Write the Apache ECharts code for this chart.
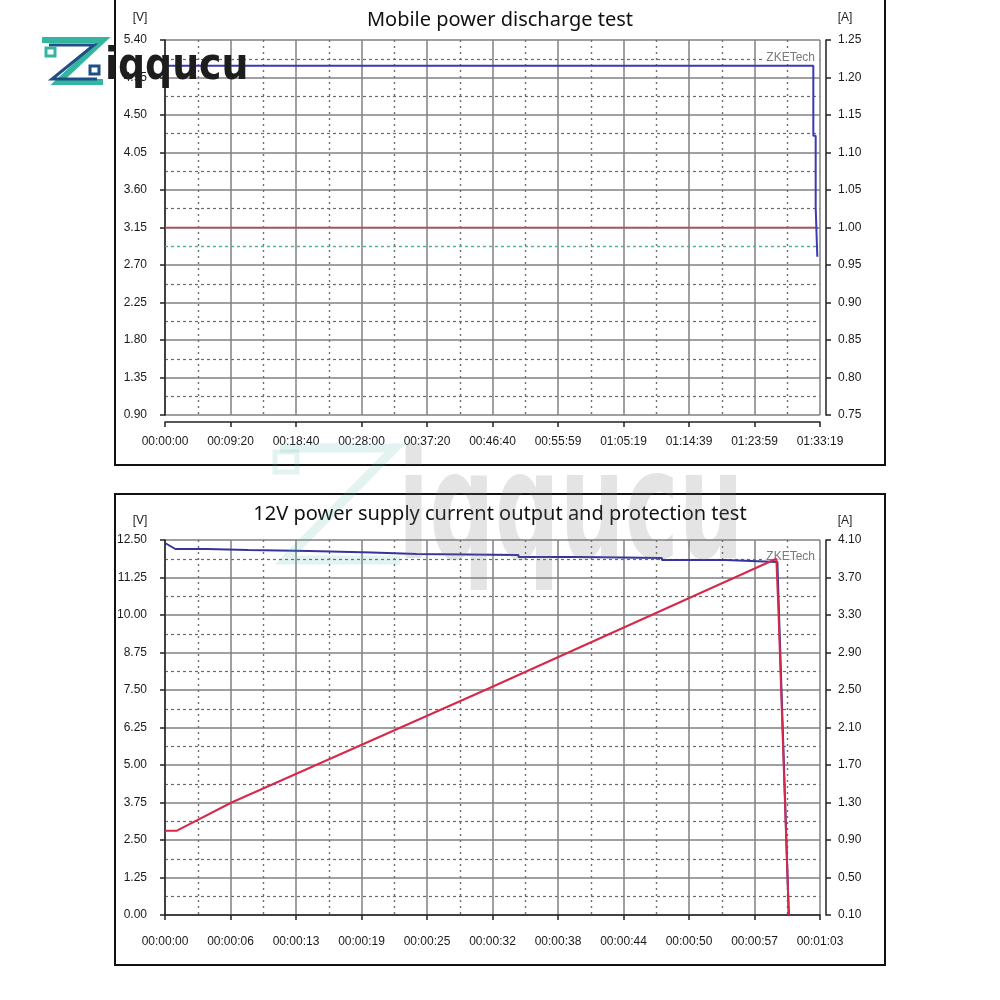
<!DOCTYPE html>
<html><head><meta charset="utf-8">
<script src="https://cdn.jsdelivr.net/npm/echarts@6/dist/echarts.min.js"></script>
<style>html,body{margin:0;padding:0;background:#fff}#c{width:1000px;height:1000px}</style>
</head><body><div id="c"></div>
<script>
// ---------- data ----------
const topTitle = 'Mobile power discharge test';
const bottomTitle = '12V power supply current output and protection test';

const topTimeLabels = ['00:00:00','00:09:20','00:18:40','00:28:00','00:37:20','00:46:40','00:55:59','01:05:19','01:14:39','01:23:59','01:33:19'];
const topTimeStep = 559.9;      // seconds between labels
const topTimeMax = 5599;
const topVoltRange = [0.90, 5.40, 0.45];
const topCurrRange = [0.75, 1.25, 0.05];
const topVoltage = [[0,5.09],[5542,5.09],[5542,4.25],[5562,4.25],[5562,3.40],[5576,3.40],[5576,2.80]];
const topCurrent = [[0,1.00],[5580,1.00]];
const topCutoffVoltage = 2.925;

const bottomTimeLabels = ['00:00:00','00:00:06','00:00:13','00:00:19','00:00:25','00:00:32','00:00:38','00:00:44','00:00:50','00:00:57','00:01:03'];
const bottomTimeStep = 6.3;
const bottomTimeMax = 63;
const bottomVoltRange = [0, 12.5, 1.25];
const bottomCurrTicks = [0.10,0.50,0.90,1.30,1.70,2.10,2.50,2.90,3.30,3.70,4.10];
const bottomVoltage = [[0,12.40],[1.0,12.20],[4.0,12.20],[4.0,12.17],[8.0,12.17],[8.0,12.13],[13.9,12.13],[13.9,12.08],[19.9,12.08],[19.9,12.03],[24.2,12.03],[24.2,12.00],[34.0,12.00],[34.0,11.93],[40.0,11.93],[40.0,11.90],[47.8,11.90],[47.8,11.83],[53.9,11.83],[53.9,11.77],[58.9,11.77],[59.1,9.6],[60.0,0.00]];
const bottomCurrent = [[0,1.00],[1.15,1.00],[6.4,1.30],[30.8,2.50],[58.8,3.90],[59.0,3.35],[60.0,0.10]];

// ---------- styles ----------
const labelFont = {fontFamily:'Liberation Sans, Arial, sans-serif', fontSize:12, color:'#1a1a1a'};
const solidGrid = {show:true, lineStyle:{color:'#808080', width:1.5, type:'solid'}};
const dashGridH = {show:true, lineStyle:{color:'#6a6a6a', width:1.2, type:[3,3]}};
const dashGridV = {show:true, lineStyle:{color:'#707070', width:1.4, type:[2,4]}};
const axisLine = {show:true, lineStyle:{color:'#222', width:1.5}};
const axisTick = {show:true, inside:false, length:5, lineStyle:{color:'#222', width:1.5}};

function xAxisDef(gridIndex, max, step, labels){
  return {type:'value', gridIndex, min:0, max, interval:step, position:'bottom', offset:7,
    axisLine, axisTick,
    axisLabel:Object.assign({margin:14, showMinLabel:true, showMaxLabel:true,
      formatter:v=>labels[Math.round(v/step)] || ''}, labelFont),
    splitLine:solidGrid, minorTick:{show:false, splitNumber:2}, minorSplitLine:dashGridV};
}
function yLeft(gridIndex, r){
  return {type:'value', gridIndex, min:r[0], max:r[1], interval:r[2], position:'left', offset:6,
    axisLine, axisTick,
    axisLabel:Object.assign({margin:12, formatter:v=>v.toFixed(2)}, labelFont),
    splitLine:solidGrid, minorTick:{show:false, splitNumber:2}, minorSplitLine:dashGridH};
}
const unitFont = '12px "Liberation Sans", Arial';

const option = {
  animation:false,
  backgroundColor:'#fff',
  grid:[
    {left:165, top:40, width:655, height:375, outerBoundsMode:'none', containLabel:false},
    {left:165, top:540, width:655, height:375, outerBoundsMode:'none', containLabel:false}
  ],
  xAxis:[
    xAxisDef(0, topTimeMax, topTimeStep, topTimeLabels),
    xAxisDef(1, bottomTimeMax, bottomTimeStep, bottomTimeLabels)
  ],
  yAxis:[
    yLeft(0, topVoltRange),
    {type:'value', gridIndex:0, min:topCurrRange[0], max:topCurrRange[1], interval:topCurrRange[2], position:'right', offset:6,
      axisLine, axisTick, axisLabel:Object.assign({margin:12, formatter:v=>v.toFixed(2)}, labelFont), splitLine:{show:false}},
    yLeft(1, bottomVoltRange),
    {type:'value', gridIndex:1, min:bottomCurrTicks[0], max:bottomCurrTicks[bottomCurrTicks.length-1], position:'right', offset:6,
      axisLine,
      axisTick:Object.assign({customValues:bottomCurrTicks}, axisTick),
      axisLabel:Object.assign({margin:12, customValues:bottomCurrTicks, formatter:v=>v.toFixed(2)}, labelFont),
      splitLine:{show:false}}
  ],
  series:[
    {type:'line', xAxisIndex:0, yAxisIndex:1, data:topCurrent, showSymbol:false, symbol:'none',
      lineStyle:{color:'#d8394b', width:1.6}, z:3},
    {type:'line', xAxisIndex:0, yAxisIndex:0, data:topVoltage, showSymbol:false, symbol:'none',
      lineStyle:{color:'#3a3ab4', width:2}, z:4,
      markLine:{silent:true, symbol:'none', label:{show:false},
        lineStyle:{color:'#4bb0a6', width:1.2, type:[3,3]}, data:[{yAxis:topCutoffVoltage}]}},
    {type:'line', xAxisIndex:1, yAxisIndex:2, data:bottomVoltage, showSymbol:false, symbol:'none',
      lineStyle:{color:'#34349c', width:2}, z:3},
    {type:'line', xAxisIndex:1, yAxisIndex:3, data:bottomCurrent, showSymbol:false, symbol:'none',
      lineStyle:{color:'#d6284a', width:2}, z:4}
  ],
  graphic:[
    // frames
    {type:'rect', shape:{x:115, y:-5, width:770, height:470}, style:{fill:'none', stroke:'#111', lineWidth:2}, silent:true, z:1},
    {type:'rect', shape:{x:115, y:494, width:770, height:471}, style:{fill:'none', stroke:'#111', lineWidth:2}, silent:true, z:1},
    // titles
    {type:'text', x:500, y:20, style:{text:topTitle, font:'20px "Noto Sans", sans-serif', fill:'#111', align:'center', verticalAlign:'middle'}, z:10},
    {type:'text', x:500, y:514, style:{text:bottomTitle, font:'20px "Noto Sans", sans-serif', fill:'#111', align:'center', verticalAlign:'middle'}, z:10},
    // units
    {type:'text', x:140, y:18, style:{text:'[V]', font:unitFont, fill:'#222', align:'center', verticalAlign:'middle'}},
    {type:'text', x:845, y:18, style:{text:'[A]', font:unitFont, fill:'#222', align:'center', verticalAlign:'middle'}},
    {type:'text', x:140, y:521, style:{text:'[V]', font:unitFont, fill:'#222', align:'center', verticalAlign:'middle'}},
    {type:'text', x:845, y:521, style:{text:'[A]', font:unitFont, fill:'#222', align:'center', verticalAlign:'middle'}},
    // ZKETech marks
    {type:'text', x:816, y:58, style:{text:'ZKETech', font:unitFont, fill:'#7a7a7a', align:'right', verticalAlign:'middle', backgroundColor:'#fff', padding:[0,1,0,2]}, z:5},
    {type:'text', x:816, y:557, style:{text:'ZKETech', font:unitFont, fill:'#7a7a7a', align:'right', verticalAlign:'middle', backgroundColor:'rgba(255,255,255,0.8)', padding:[0,1,0,2]}, z:2},
    // big watermark
    {type:'polyline', shape:{points:[[280,448],[395,448],[285,560],[400,560]]}, style:{fill:'none', stroke:'rgba(80,180,170,0.16)', lineWidth:9}, silent:true, z:20},
    {type:'rect', shape:{x:275, y:452, width:22, height:20}, style:{fill:'none', stroke:'rgba(80,180,170,0.16)', lineWidth:5}, silent:true, z:20},
    {type:'text', x:398, y:519, scaleX:0.6, style:{text:'iqqucu', font:'bold 152px "DejaVu Sans", sans-serif', fill:'rgba(120,120,120,0.2)', align:'left', verticalAlign:'middle'}, silent:true, z:20},
    // top-left logo
    {type:'polyline', shape:{points:[[42,40],[103,40],[58,82],[103,82]]}, style:{fill:'none', stroke:'#33b59f', lineWidth:6}, silent:true, z:30},
    {type:'polyline', shape:{points:[[49,45],[94,45],[52,79],[97,79]]}, style:{fill:'none', stroke:'#1f4f86', lineWidth:3}, silent:true, z:31},
    {type:'rect', shape:{x:46, y:48, width:9, height:8}, style:{fill:'none', stroke:'#33b59f', lineWidth:3}, silent:true, z:31},
    {type:'rect', shape:{x:90, y:66, width:9, height:8}, style:{fill:'none', stroke:'#1f4f86', lineWidth:3}, silent:true, z:31},
    {type:'text', x:105, y:68, scaleX:0.86, style:{text:'iqqucu', font:'bold 44px "DejaVu Sans", sans-serif', fill:'#1d1d1d', align:'left', verticalAlign:'middle'}, silent:true, z:30}
  ]
};
const chart = echarts.init(document.getElementById('c'), null, {renderer:'canvas', width:1000, height:1000});
chart.setOption(option);
</script>
</body></html>
